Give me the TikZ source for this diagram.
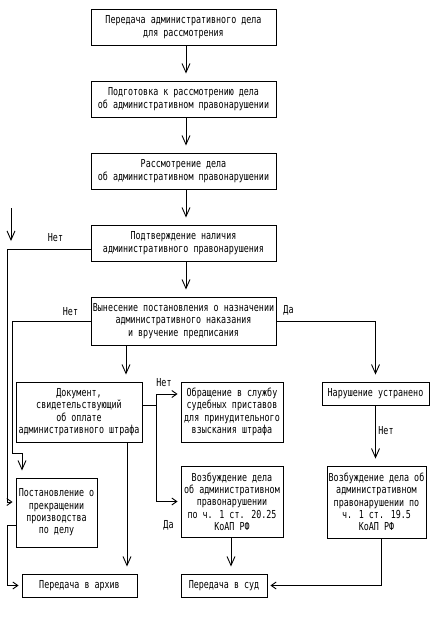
\documentclass[tikz,border=0pt]{standalone}
\usepackage{fontspec}
\usepackage{tikz}
\usetikzlibrary{arrows.meta}
\newfontfamily\dosfont[FakeStretch=0.76]{DejaVu Sans Mono}
\newcommand{\blok}[6]{\node[blok, minimum width={(#4-#2)*1pt}, minimum height={(#5-#3)*1pt}] (#1) at ( {(#2+#4)/2} , {(#3+#5)/2} ) {#6};}
\newcommand{\metka}[4]{\node[metka] (#1) at ( #2 , #3 ) {#4};}
\tikzset{
  blok/.style={draw, line width=0.9pt, inner sep=1pt, align=center, font=\dosfont\fontsize{11}{12.3}\selectfont},
  metka/.style={inner sep=0pt, font=\dosfont\fontsize{11}{12.3}\selectfont},
  varr/.style={-{Straight Barb[length=9pt,width=8pt]}, shorten >=7pt},
  harr/.style={-{Straight Barb[length=5pt,width=7pt]}, shorten >=3pt}
}

\begin{document}
\begin{tikzpicture}[x=1pt, y=-1pt, line width=0.9pt]
            \useasboundingbox (0,0) rectangle (446,619);
            % main column
            \blok{b1}{91}{9}{276}{45}{Передача административного дела\\для рассмотрения}
            \blok{b2}{91}{81}{276}{117}{Подготовка к рассмотрению дела\\об административном правонарушении}
            \blok{b3}{91}{153}{276}{189}{Рассмотрение дела\\об административном правонарушении}
            \blok{b4}{91}{225}{276}{261}{Подтверждение наличия\\административного правонарушения}
            \blok{b5}{91}{297}{276}{345}{Вынесение постановления о назначении\\административного наказания\\и вручение предписания}
            % row 2
            \blok{b6}{16}{382}{142}{442}{Документ,\\свидетельствующий\\об оплате\\административного штрафа}
            \blok{b9}{181}{382}{283}{442}{Обращение в службу\\судебных приставов\\для принудительного\\взыскания штрафа}
            \blok{b12}{322}{382}{429}{405}{Нарушение устранено}
            % row 3
            \blok{b7}{16}{478}{97}{547}{Постановление о\\прекращении\\производства\\по делу}
            \blok{b10}{181}{466}{283}{537}{Возбуждение дела\\об административном\\правонарушении\\по ч. 1 ст. 20.25\\КоАП РФ}
            \blok{b13}{327}{466}{426}{538}{Возбуждение дела об\\административном\\правонарушении по\\ч. 1 ст. 19.5\\КоАП РФ}
            % row 4
            \blok{b8}{22}{574}{137}{597}{Передача в архив}
            \blok{b11}{181}{574}{267}{597}{Передача в суд}

            % labels
            \metka{n1}{55.5}{238}{Нет}
            \metka{n2}{70.5}{311.5}{Нет}
            \metka{d1}{288.5}{310}{Да}
            \metka{n3}{164}{383}{Нет}
            \metka{d2}{168.5}{525}{Да}
            \metka{n4}{386}{430.5}{Нет}

            % arrows
            \coordinate (s1) at (11,208);
            \coordinate (s2) at (11,248);
            \coordinate (razv) at (156,405);
            \draw[varr] ([xshift=2.5pt]b1.south) -- ([xshift=2.5pt]b2.north);
            \draw[varr] ([xshift=2.5pt]b2.south) -- ([xshift=2.5pt]b3.north);
            \draw[varr] ([xshift=2.5pt]b3.south) -- ([xshift=2.5pt]b4.north);
            \draw[varr] ([xshift=2.5pt]b4.south) -- ([xshift=2.5pt]b5.north);
            \draw[varr] (s1) -- (s2);
            \draw[harr] (b4.west |- 0,249) -| (7,502) -- (b7.west |- 0,502);
            \draw[varr] (b5.west) -| (12,453) -| (b7.north -| 22,0);
            \draw[varr] (b5.east) -| (b12.north);
            \draw[varr] (b5.south -| 126,0) -- (b6.north -| 126,0);
            \draw (b6.east |- razv) -- (razv);
            \draw[harr] (razv) |- (b9.west |- 0,394);
            \draw[harr] (razv) |- (b10.west);
            \draw[varr] (b6.south -| 127,0) -- (b8.north -| 127,0);
            \draw[harr] (b7.west |- 0,525) -| (b8.west -| 7,0) -- (b8.west);
            \draw[varr] (b12.south) -- (b12.south |- b13.north);
            \draw[varr] (b10.south -| 231,0) -- (b11.north -| 231,0);
            \draw[harr] (b13.south -| 381,0) |- (b11.east);
\end{tikzpicture}
\end{document}
